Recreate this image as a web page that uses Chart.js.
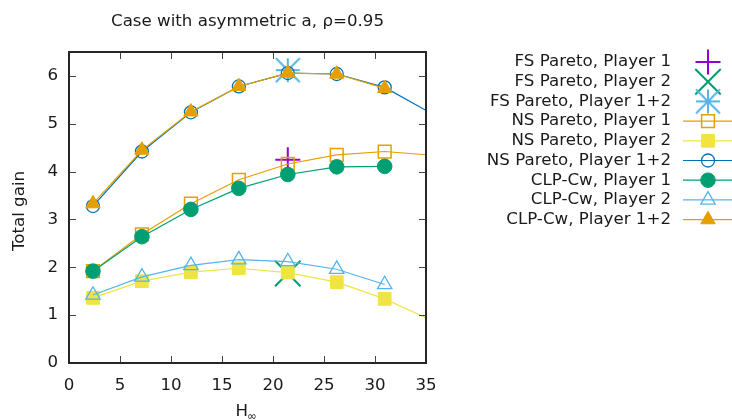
<!DOCTYPE html>
<html>
<head>
<meta charset="utf-8">
<script src="https://cdn.jsdelivr.net/npm/chart.js@4"></script>
<style>
  body { margin: 0; background: #fff; }
  canvas { display: block; }
</style>
</head>
<body>
<canvas id="gainChart" width="732" height="420"></canvas>
<script>
// Datos
const hValues = [2.35, 7.15, 11.95, 16.65, 21.45, 26.25, 30.95];
const hValuesNS = [2.35, 7.15, 11.95, 16.65, 21.45, 26.25, 30.95, 35.75];
const fsH = [21.45];
const fsP1 = [4.25];
const fsP2 = [1.87];
const fsP12 = [6.12];
const nsP1 = [1.92, 2.69, 3.33, 3.83, 4.16, 4.35, 4.42, 4.34];
const nsP2 = [1.36, 1.71, 1.90, 1.98, 1.89, 1.69, 1.34, 0.87];
const nsP12 = [3.28, 4.42, 5.24, 5.78, 6.06, 6.04, 5.76, 5.19];
const clpP1 = [1.92, 2.64, 3.21, 3.65, 3.94, 4.10, 4.11];
const clpP2 = [1.42, 1.80, 2.04, 2.16, 2.12, 1.96, 1.64];
const clpP12 = [3.33, 4.45, 5.25, 5.78, 6.06, 6.04, 5.74];
const seriesLabels = [
  "FS Pareto, Player 1", "FS Pareto, Player 2", "FS Pareto, Player 1+2",
  "NS Pareto, Player 1", "NS Pareto, Player 2", "NS Pareto, Player 1+2",
  "CLP-Cw, Player 1", "CLP-Cw, Player 2", "CLP-Cw, Player 1+2"
];
const xTicks = [0, 5, 10, 15, 20, 25, 30, 35];
const yTicks = [0, 1, 2, 3, 4, 5, 6];

const FONT = "'DejaVu Sans', sans-serif";
const FSIZE = 16.67;
const TEXT = "#1a1a1a";

const toPoints = (xs, ys) => xs.map((x, i) => ({ x, y: ys[i] }));

// Asterisco tipo gnuplot (+ y x del mismo tamano)
const makeAsterisk = (color, half) => {
  const c = document.createElement("canvas");
  const s = Math.ceil(half * 2 + 4);
  c.width = s;
  c.height = s;
  const g = c.getContext("2d");
  const m = s / 2;
  g.strokeStyle = color;
  g.lineWidth = 2;
  g.beginPath();
  g.moveTo(m - half, m); g.lineTo(m + half, m);
  g.moveTo(m, m - half); g.lineTo(m, m + half);
  g.moveTo(m - half, m - half); g.lineTo(m + half, m + half);
  g.moveTo(m - half, m + half); g.lineTo(m + half, m - half);
  g.stroke();
  return c;
};

const hideOutside = (r) => (ctx) => (ctx.raw && ctx.raw.x > 35 ? 0 : r);

const makeSet = (i, xs, ys, color, style, radius, filled, showLine, bw) => ({
  label: seriesLabels[i],
  data: toPoints(xs, ys),
  showLine: showLine,
  borderColor: color,
  borderWidth: 1.2,
  pointStyle: style,
  pointRadius: hideOutside(radius),
  pointHoverRadius: hideOutside(radius),
  pointBorderColor: color,
  pointBackgroundColor: filled ? color : "rgba(0,0,0,0)",
  pointBorderWidth: bw,
  tension: 0,
  order: 10 - i,
});

const datasets = [
  makeSet(0, fsH, fsP1, "#9400d3", "cross", 12.5, false, false, 2),
  makeSet(1, fsH, fsP2, "#009e73", "crossRot", 18, false, false, 2),
  makeSet(2, fsH, fsP12, "#56b4e9", makeAsterisk("#56b4e9", 12), 13, false, false, 2),
  makeSet(3, hValuesNS, nsP1, "#e69f00", "rect", 9, false, true, 1.5),
  makeSet(4, hValuesNS, nsP2, "#f0e442", "rect", 9, true, true, 1),
  makeSet(5, hValuesNS, nsP12, "#0072b2", "circle", 6.5, false, true, 1.3),
  makeSet(6, hValues, clpP1, "#009e73", "circle", 7.3, true, true, 1),
  makeSet(7, hValues, clpP2, "#56b4e9", "triangle", 8.3, false, true, 1.3),
  makeSet(8, hValues, clpP12, "#e69f00", "triangle", 8.3, true, true, 1),
];

// Marco, marcas hacia dentro, titulos y leyenda al estilo gnuplot
const framePlugin = {
  id: "frame",
  afterDraw(chart) {
    const { ctx, chartArea: a, scales } = chart;
    const tl = 7;
    ctx.save();
    ctx.strokeStyle = "#444";
    ctx.lineWidth = 1;
    ctx.beginPath();
    xTicks.forEach((v) => {
      const px = Math.round(scales.x.getPixelForValue(v)) + 0.5;
      ctx.moveTo(px, a.bottom); ctx.lineTo(px, a.bottom - tl);
      ctx.moveTo(px, a.top); ctx.lineTo(px, a.top + tl);
    });
    yTicks.forEach((v) => {
      const py = Math.round(scales.y.getPixelForValue(v)) + 0.5;
      ctx.moveTo(a.left, py); ctx.lineTo(a.left + tl, py);
      ctx.moveTo(a.right, py); ctx.lineTo(a.right - tl, py);
    });
    ctx.stroke();
    ctx.strokeStyle = "#262626";
    ctx.lineWidth = 2;
    ctx.strokeRect(a.left, a.top, a.right - a.left, a.bottom - a.top);

    // titulo
    ctx.fillStyle = TEXT;
    ctx.font = FSIZE + "px " + FONT;
    ctx.textAlign = "center";
    ctx.textBaseline = "middle";
    ctx.fillText("Case with asymmetric a, ρ=0.95", (a.left + a.right) / 2, 22);

    // eje y
    ctx.save();
    ctx.translate(20, 211);
    ctx.rotate(-Math.PI / 2);
    ctx.fillText("Total gain", 0, 0);
    ctx.restore();

    // eje x: H con subindice infinito
    ctx.textAlign = "left";
    ctx.fillText("H", 235.5, 412);
    ctx.font = "11.5px " + FONT;
    ctx.fillText("∞", 247, 417);

    // leyenda
    ctx.font = FSIZE + "px " + FONT;
    ctx.textAlign = "right";
    chart.data.datasets.forEach((ds, i) => {
      const y = 62 + i * 19.7;
      ctx.fillStyle = TEXT;
      ctx.fillText(ds.label, 671, y);
      if (ds.showLine) {
        ctx.strokeStyle = ds.borderColor;
        ctx.lineWidth = ds.borderWidth;
        ctx.beginPath();
        ctx.moveTo(683, y);
        ctx.lineTo(732, y);
        ctx.stroke();
      }
      const r = ds.pointRadius({ raw: { x: 0 } });
      ctx.strokeStyle = ds.pointBorderColor;
      ctx.fillStyle = ds.pointBackgroundColor;
      ctx.lineWidth = ds.pointBorderWidth;
      Chart.helpers.drawPoint(ctx, {
        pointStyle: ds.pointStyle,
        rotation: 0,
        radius: r,
        borderWidth: ds.pointBorderWidth,
      }, 708, y);
    });
    ctx.restore();
  },
};

new Chart(document.querySelector("#gainChart"), {
  type: "line",
  data: { datasets },
  options: {
    responsive: false,
    animation: false,
    events: [],
    layout: { padding: { top: 52, right: 306, left: 0, bottom: 0 } },
    plugins: {
      legend: { display: false },
      title: { display: false },
      tooltip: { enabled: false },
    },
    scales: {
      x: {
        type: "linear",
        min: 0,
        max: 35,
        grid: { display: false },
        border: { display: false },
        ticks: { stepSize: 5, padding: 5, color: TEXT, font: { family: FONT, size: FSIZE } },
        afterFit: (s) => { s.height = 57; },
      },
      y: {
        type: "linear",
        min: 0,
        max: 6.5,
        grid: { display: false },
        border: { display: false },
        ticks: { stepSize: 1, includeBounds: false, padding: 3, color: TEXT, font: { family: FONT, size: FSIZE } },
        afterBuildTicks: (s) => { s.ticks = s.ticks.filter((t) => Number.isInteger(t.value)); },
        afterFit: (s) => { s.width = 69; },
      },
    },
  },
  plugins: [framePlugin],
});
</script>
</body>
</html>
